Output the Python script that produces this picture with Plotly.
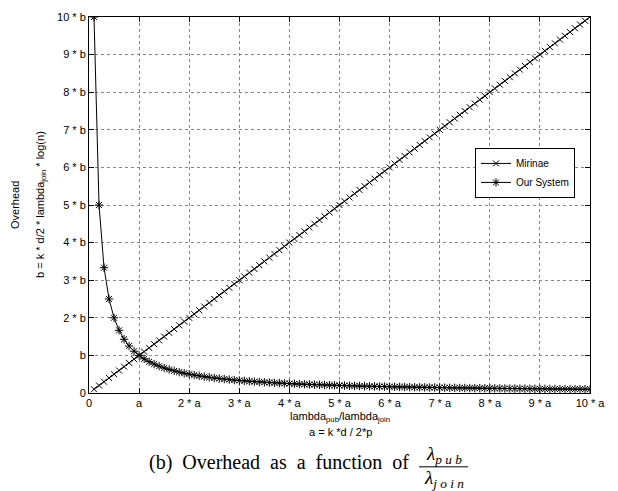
import numpy as np
import plotly.graph_objects as go

# data
x_vals = [round(0.1 * i, 1) for i in range(1, 101)]
mirinae = [v for v in x_vals]                      # overhead grows linearly with ratio
our_system = [round(1.0 / v, 4) for v in x_vals]   # overhead ~ 1/ratio

tick_vals = list(range(0, 11))
x_tick_text = ["0", "a"] + [f"{i} * a" for i in range(2, 11)]
y_tick_text = ["0", "b"] + [f"{i} * b" for i in range(2, 11)]

W, H = 618, 491
L, R, T, B = 89, 590, 11, 393

def px(xp):
    return (xp - L) / (R - L)

def py(yp):
    return (B - yp) / (B - T)

SANS = "Liberation Sans, Arial"
SERIF = "Liberation Serif, Times New Roman"

fig = go.Figure()
fig.add_trace(go.Scatter(
    x=x_vals, y=mirinae, name="Mirinae", mode="lines+markers",
    line=dict(color="black", width=1),
    marker=dict(symbol="x-thin-open", size=6, color="black", line=dict(width=1, color="black")),
))
fig.add_trace(go.Scatter(
    x=x_vals, y=our_system, name="Our System", mode="lines+markers",
    line=dict(color="black", width=1),
    marker=dict(symbol="asterisk-open", size=7, color="black", line=dict(width=1, color="black")),
))

axis_common = dict(
    range=[0, 10], tickmode="array", tickvals=tick_vals,
    showline=True, linecolor="black", linewidth=1, mirror="ticks",
    ticks="inside", ticklen=5, tickcolor="black",
    showgrid=True, gridcolor="#888", griddash="dot", gridwidth=1,
    zeroline=False, tickfont=dict(family=SANS, size=11, color="black"),
)

fig.update_xaxes(**axis_common, ticktext=x_tick_text)
fig.update_yaxes(**axis_common, ticktext=y_tick_text)

def ann(text, xp, yp, font, angle=0, xanchor="center"):
    return dict(text=text, x=px(xp), y=py(yp), xref="paper", yref="paper",
                xanchor=xanchor, yanchor="middle", textangle=angle,
                showarrow=False, font=font)

sans11 = dict(family=SANS, size=11, color="black")
annotations = [
    ann("lambda<sub>pub</sub>/lambda<sub>join</sub>", 340, 417, sans11),
    ann("a = k *d / 2*p", 340, 433, sans11),
    ann("Overhead", 15, 202, sans11, angle=-90),
    ann("b = k * d/2 * lambda<sub>join</sub> * log(n)", 41, 202, sans11, angle=-90),
    ann("(b)\u00a0 Overhead\u00a0 as\u00a0 a\u00a0 function\u00a0 of", 411, 464,
        dict(family=SERIF, size=20, color="black"), xanchor="right"),
    ann("<i>λ<sub>p u b</sub></i>", 444, 456, dict(family=SERIF, size=19, color="black")),
    ann("<i>λ<sub>j o i n</sub></i>", 444, 480, dict(family=SERIF, size=19, color="black")),
]

fig.add_shape(type="line", xref="paper", yref="paper", x0=px(419), x1=px(468), y0=py(468), y1=py(468),
              line=dict(color="black", width=1))

fig.update_layout(
    width=W, height=H,
    margin=dict(l=L, r=W - R, t=T, b=H - B),
    plot_bgcolor="white", paper_bgcolor="white",
    annotations=annotations,
    legend=dict(x=px(475), y=py(144), xanchor="left", yanchor="top",
                bgcolor="white", bordercolor="black", borderwidth=1,
                font=dict(family=SANS, size=10, color="black"),
                tracegroupgap=0, itemwidth=30),
    showlegend=True,
)

fig.write_html("out.html")
